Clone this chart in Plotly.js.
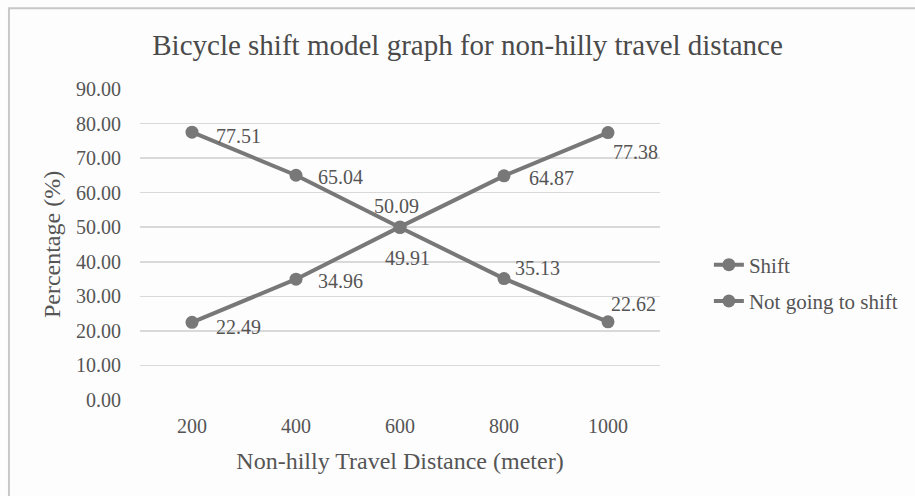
<!DOCTYPE html>
<html>
<head>
<meta charset="utf-8">
<script src="https://cdn.plot.ly/plotly-3.0.1.min.js"></script>
<style>html,body{margin:0;padding:0;background:#fdfdfd;}#chart{width:915px;height:496px;}</style>
</head>
<body>
<div id="chart"></div>
<script>
const distances = ['200', '400', '600', '800', '1000'];
const shiftValues = [22.49, 34.96, 50.09, 64.87, 77.38];
const notShiftValues = [77.51, 65.04, 49.91, 35.13, 22.62];
const shiftLabels = ['22.49', '34.96', '50.09', '64.87', '77.38'];
const notShiftLabels = ['77.51', '65.04', '49.91', '35.13', '22.62'];
const yTicks = [0, 10, 20, 30, 40, 50, 60, 70, 80, 90];
const yTickText = ['0.00', '10.00', '20.00', '30.00', '40.00', '50.00', '60.00', '70.00', '80.00', '90.00'];

const serif = 'Liberation Serif, Times New Roman, serif';
const lineColor = '#787878';
const textColor = '#555555';

// label placement (style only): [xanchor, xshift, yshift]
const shiftLabelPos = [['left', 22, -5], ['left', 20, -2], ['center', -4, 21], ['left', 23, -2], ['left', 3, -19]];
const notShiftLabelPos = [['left', 22, -4], ['left', 20, -2], ['center', 7, -30], ['left', 9, 11], ['left', 1, 18]];

const traces = [
  {
    x: distances, y: shiftValues, name: 'Shift', legendgroup: 'g1', type: 'scatter', mode: 'lines+markers',
    line: {color: lineColor, width: 4},
    marker: {color: lineColor, size: 13}
  },
  {
    x: distances, y: notShiftValues, name: 'Not going to shift', legendgroup: 'g2', type: 'scatter', mode: 'lines+markers',
    line: {color: lineColor, width: 4},
    marker: {color: lineColor, size: 13}
  }
];

function makeLabels(values, labels, pos) {
  return values.map((v, i) => ({
    x: i, y: v, xref: 'x', yref: 'y', text: labels[i], showarrow: false,
    xanchor: pos[i][0], yanchor: 'middle', xshift: pos[i][1], yshift: pos[i][2],
    font: {family: serif, size: 20, color: textColor}
  }));
}

const layout = {
  width: 915, height: 496,
  paper_bgcolor: '#fdfdfd', plot_bgcolor: '#fdfdfd',
  margin: {l: 140, r: 255, t: 89, b: 96},
  font: {family: serif, color: textColor},
  title: {text: 'Bicycle shift model graph for non-hilly travel distance', font: {family: serif, size: 29, color: '#4a4a4a'}, x: 0.511, xanchor: 'center', xref: 'container', y: 0.91, yanchor: 'middle', yref: 'container'},
  showlegend: true,
  legend: {x: 1.094, y: 0.376, xanchor: 'left', yanchor: 'middle', font: {family: serif, size: 21, color: textColor}, bgcolor: 'rgba(0,0,0,0)', itemwidth: 30, tracegroupgap: 6, traceorder: 'grouped'},
  xaxis: {
    type: 'category', range: [-0.5, 4.5], showgrid: false, zeroline: false, showline: false, ticks: '', ticklabelstandoff: 12,
    tickfont: {family: serif, size: 20, color: textColor},
    title: {text: 'Non-hilly Travel Distance (meter)', font: {family: serif, size: 24, color: textColor}, standoff: 16}
  },
  yaxis: {
    range: [0, 90], tickvals: yTicks, ticktext: yTickText, showgrid: true, gridcolor: '#d9d9d9', gridwidth: 1.5,
    zeroline: false, showline: false, ticks: '', ticklabelstandoff: 18,
    tickfont: {family: serif, size: 20, color: textColor},
    title: {text: 'Percentage (%)', font: {family: serif, size: 24, color: textColor}, standoff: 8}
  },
  annotations: makeLabels(shiftValues, shiftLabels, shiftLabelPos).concat(makeLabels(notShiftValues, notShiftLabels, notShiftLabelPos)),
  shapes: [
    {type: 'rect', xref: 'paper', yref: 'paper', x0: -0.252, x1: 1.6, y0: -0.4, y1: 1.26, line: {color: '#c8c8c8', width: 2}, fillcolor: 'rgba(0,0,0,0)', layer: 'below'}
  ]
};

Plotly.newPlot('chart', traces, layout, {displayModeBar: false, staticPlot: true});
</script>
</body>
</html>
